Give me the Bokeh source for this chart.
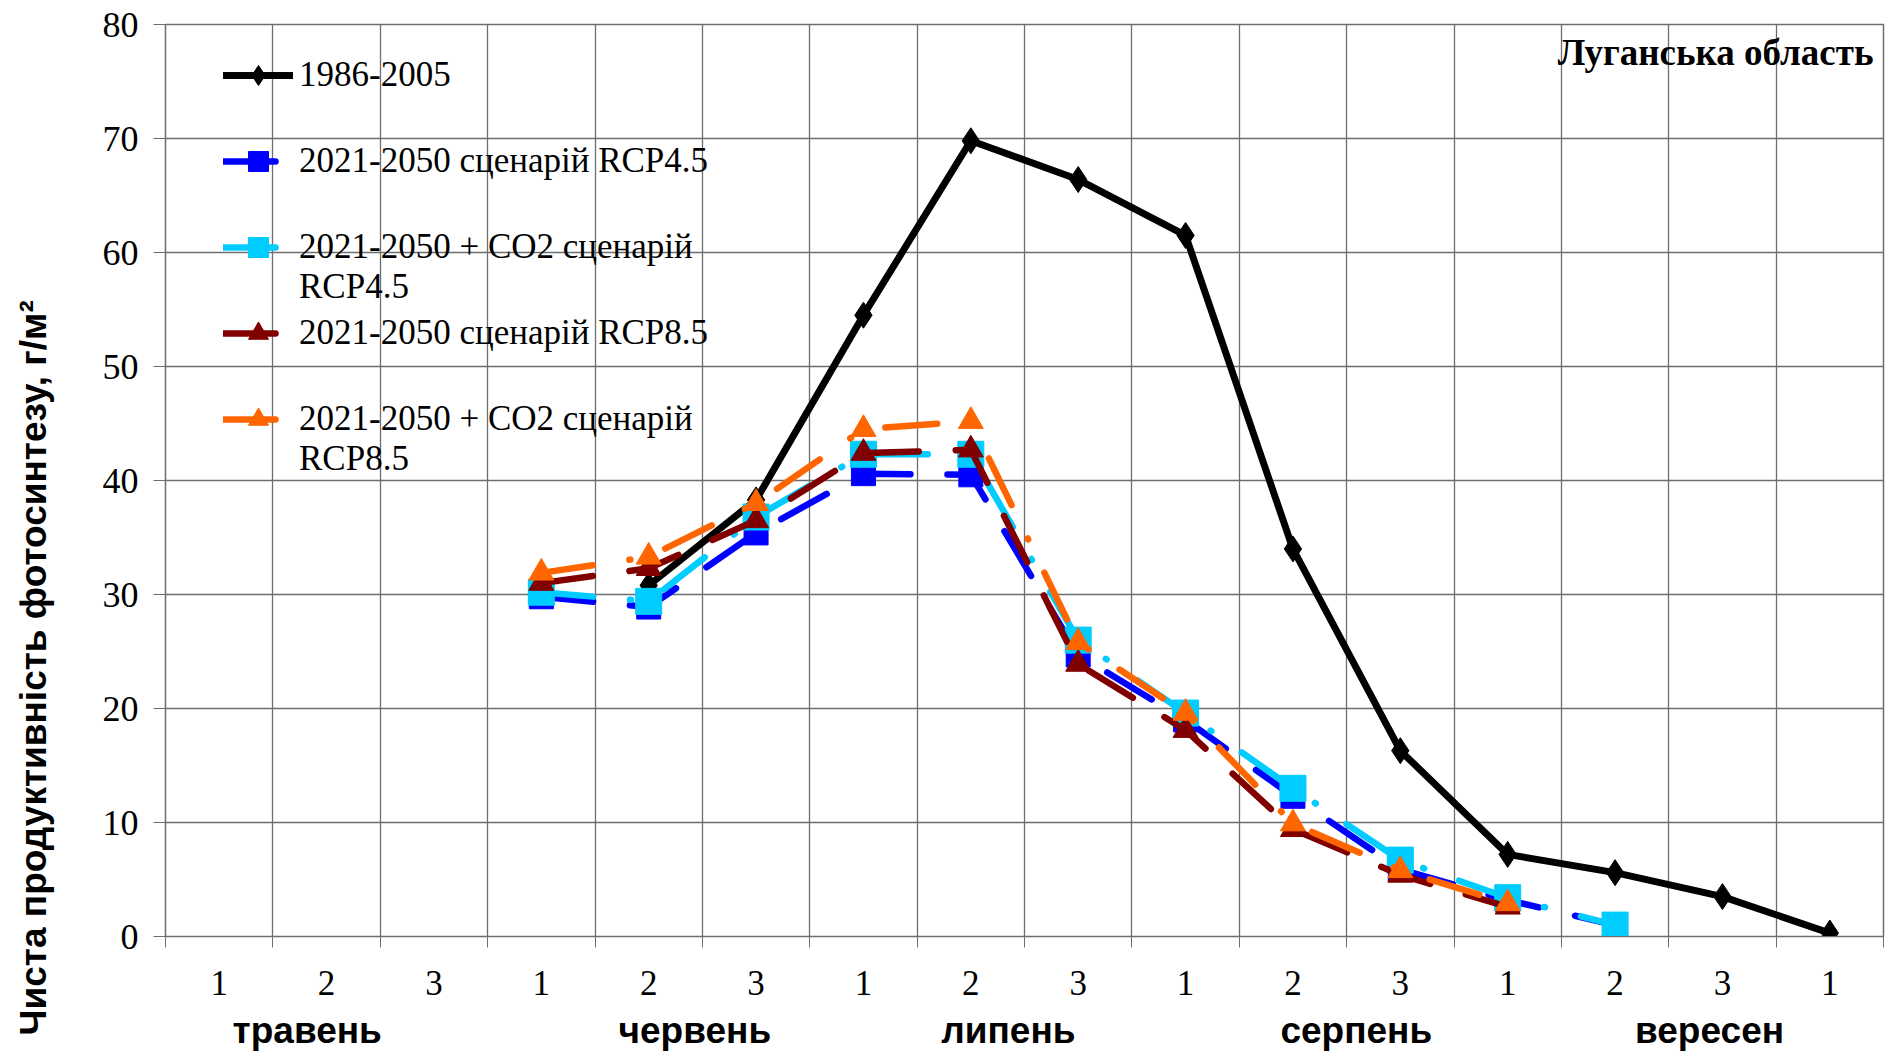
import math
from bokeh.plotting import figure
from bokeh.layouts import row
from bokeh.models import (Range1d, FixedTicker, LinearAxis, Legend, LegendItem, Label, Title)
from bokeh.embed import file_html
from bokeh.resources import INLINE

nan = float("nan")

# --- data -------------------------------------------------------------
decade_labels = ["1", "2", "3", "1", "2", "3", "1", "2", "3",
                 "1", "2", "3", "1", "2", "3", "1"]
month_names = ["травень", "червень", "липень", "серпень", "вересен"]
month_label_positions = [0.82, 4.43, 7.35, 10.59, 13.88]
y_ticks = [0, 10, 20, 30, 40, 50, 60, 70, 80]
y_title = "Чиста продуктивність фотосинтезу, г/м²"
region_title = "Луганська область"

series_names = [
    "1986-2005",
    "2021-2050 сценарій RCP4.5",
    "2021-2050 + CO2 сценарій\nRCP4.5",
    "2021-2050 сценарій RCP8.5",
    "2021-2050 + CO2 сценарій\nRCP8.5",
]
base_1986_2005 = [nan, nan, nan, nan, 30.8, 38.3, 54.5, 69.8, 66.4, 61.5, 34.0, 16.3, 7.2, 5.6, 3.5, 0.3]
rcp45 = [nan, nan, nan, 29.8, 28.9, 35.4, 40.6, 40.5, 24.7, 19.0, 12.3, 5.9, 3.2, 1.0, nan, nan]
rcp45_co2 = [nan, nan, nan, 30.2, 29.4, 36.8, 42.3, 42.3, 26.0, 19.6, 13.0, 6.7, 3.4, 1.0, nan, nan]
rcp85 = [nan, nan, nan, 31.0, 32.3, 36.5, 42.4, 42.7, 23.9, 18.1, 9.4, 5.4, 2.6, nan, nan, nan]
rcp85_co2 = [nan, nan, nan, 31.9, 33.3, 38.0, 44.5, 45.2, 25.8, 19.6, 9.9, 5.8, 2.9, nan, nan, nan]

series_values = [base_1986_2005, rcp45, rcp45_co2, rcp85, rcp85_co2]
series_colors = ["#000000", "#0000FF", "#00CCFF", "#800000", "#FF6600"]
series_dash = ["solid", "52 37", "52 37 1 37", "52 37", "52 37 1 37"]
series_widths = [7, 6.5, 6.5, 6.5, 6.5]
series_markers = ["diamond", "square", "square", "triangle", "triangle"]
series_sizes = [26, 24, 26, 25, 25]

# --- layout constants ---------------------------------------------------
TOTAL_W, H = 1887, 1056
TW = 80                      # width of the strip holding the y title
W = TOTAL_W - TW
FRAME_TOP, FRAME_BOTTOM = 24, 936
FRAME_H = FRAME_BOTTOM - FRAME_TOP
n = len(decade_labels)
centers = list(range(n))
bounds = [i - 0.5 for i in range(n + 1)]

serif = "Liberation Serif"
sans = "Liberation Sans"
gridc = "#6e6e6e"

# --- y-title strip ------------------------------------------------------
tp = figure(width=TW, height=H, x_range=Range1d(0, 1), y_range=Range1d(0, 1),
            output_backend="svg", toolbar_location=None,
            min_border=0, x_axis_location=None, y_axis_location=None)
tp.grid.visible = False
tp.outline_line_color = None
tp.add_layout(Title(text=y_title, align="left", vertical_align="top",
                    offset=-(1035 - FRAME_BOTTOM), standoff=25,
                    text_font=sans, text_font_style="bold",
                    text_font_size="37px", text_color="black"), "left")

# --- main chart ---------------------------------------------------------
p = figure(width=W, height=H, x_range=Range1d(-0.5, n - 0.5), y_range=Range1d(0, 80),
           output_backend="svg", toolbar_location=None,
           min_border_left=165 - TW, min_border_right=4,
           min_border_top=FRAME_TOP, min_border_bottom=H - FRAME_BOTTOM)
p.outline_line_color = gridc
p.outline_line_width = 1.5
p.background_fill_color = "white"

# y axis
ya = p.yaxis[0]
ya.ticker = FixedTicker(ticks=y_ticks)
ya.minor_tick_line_color = None
ya.major_tick_out = 12
ya.major_tick_in = 0
ya.major_tick_line_color = gridc
ya.axis_line_color = gridc
ya.major_label_standoff = 15
ya.major_label_text_font = serif
ya.major_label_text_font_size = "36px"
ya.major_label_text_color = "black"

# x axis (decades)
xa = p.xaxis[0]
xa.ticker = FixedTicker(ticks=centers, minor_ticks=bounds)
xa.major_label_overrides = {c: lab for c, lab in zip(centers, decade_labels)}
xa.major_tick_line_color = None
xa.major_tick_out = 10
xa.major_tick_in = 0
xa.minor_tick_out = 11
xa.minor_tick_in = 0
xa.minor_tick_line_color = gridc
xa.axis_line_color = gridc
xa.major_label_standoff = 23
xa.major_label_text_font = serif
xa.major_label_text_font_size = "35px"
xa.major_label_text_color = "black"

# x axis (months)
ma = LinearAxis(ticker=FixedTicker(ticks=month_label_positions),
                major_label_overrides={pos: m for pos, m in zip(month_label_positions, month_names)})
ma.axis_line_color = None
ma.major_tick_line_color = None
ma.minor_tick_line_color = None
ma.major_tick_out = 0
ma.major_tick_in = 0
ma.major_label_standoff = 12
ma.major_label_text_font = sans
ma.major_label_text_font_style = "bold"
ma.major_label_text_font_size = "37px"
ma.major_label_text_color = "black"
p.add_layout(ma, "below")

# grids
p.xgrid.ticker = FixedTicker(ticks=bounds)
p.xgrid.grid_line_color = gridc
p.xgrid.grid_line_width = 1.3
p.ygrid.ticker = FixedTicker(ticks=y_ticks)
p.ygrid.grid_line_color = gridc
p.ygrid.grid_line_width = 1.5

# series + one legend box per entry (so two-line entries hang below their glyph)
LEG_X = 58          # glyph left edge, px from frame left
LEG_FIRST = 51      # first glyph centre, px below frame top
LEG_PITCH = 86      # distance between glyph centres
LEG_BOX = 120       # height of each legend box
for i, (name, vals, col, dash, lw, mk, sz) in enumerate(zip(
        series_names, series_values, series_colors, series_dash, series_widths,
        series_markers, series_sizes)):
    ln = p.line(centers, vals, line_color=col, line_width=lw, line_dash=dash,
                line_cap="round", line_join="round")
    sc = p.scatter(centers, vals, marker=mk, size=sz, fill_color=col, line_color=col)
    label = ("\n" + name) if "\n" in name else name
    centre = LEG_FIRST + i * LEG_PITCH
    bottom = FRAME_H - (centre - LEG_BOX / 2) - LEG_BOX
    leg = Legend(items=[LegendItem(label=label, renderers=[ln, sc])],
                 location=(LEG_X, bottom), orientation="vertical",
                 glyph_width=70, glyph_height=50, label_height=LEG_BOX, spacing=0,
                 padding=0, margin=0, label_standoff=6,
                 border_line_color=None, background_fill_alpha=0,
                 label_text_font=serif, label_text_font_size="35px",
                 label_text_color="black")
    p.add_layout(leg, "center")

p.add_layout(Label(x=1708, y=884, x_units="screen", y_units="screen",
                   text=region_title, text_align="right", text_baseline="middle",
                   text_font=serif, text_font_style="bold",
                   text_font_size="37px", text_color="black"))

layout = row(tp, p, spacing=0)
open("out.html", "w").write(file_html(layout, INLINE))
